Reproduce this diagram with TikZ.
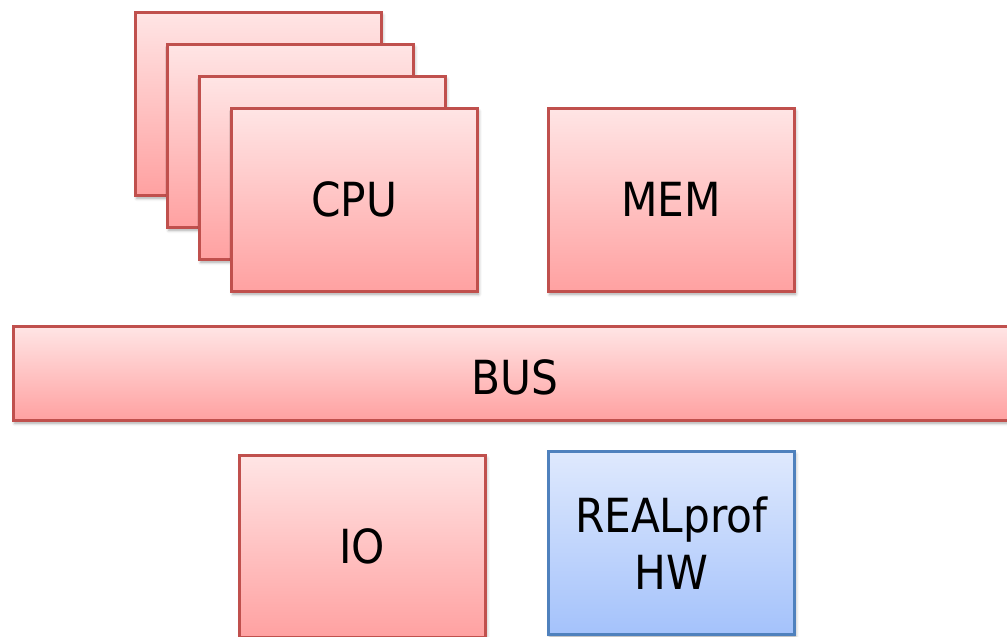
\documentclass[tikz,border=0pt]{standalone}
\usepackage{fontspec}
\setmainfont{DejaVu Sans Condensed}
\usetikzlibrary{shadows.blur}
\definecolor{redtop}{HTML}{FFE5E5}
\definecolor{redbot}{HTML}{FFA1A1}
\definecolor{redline}{HTML}{C0504D}
\definecolor{bluetop}{HTML}{DFE9FD}
\definecolor{bluebot}{HTML}{A4C2FB}
\definecolor{blueline}{HTML}{4F81BD}
\tikzset{
  redbox/.style={draw=redline, line width=2.5pt, top color=redtop, bottom color=redbot,
    anchor=north west, inner sep=0pt, align=center,
    font=\fontsize{47}{57}\selectfont,
    blur shadow={shadow xshift=1.5pt, shadow yshift=-3pt, shadow blur radius=3pt, shadow opacity=35}},
  bluebox/.style={redbox, draw=blueline, top color=bluetop, bottom color=bluebot},
}
\begin{document}
\begin{tikzpicture}[x=1pt, y=-1pt]
\useasboundingbox (0,0) rectangle (1007,637);
\node[redbox, minimum width=246pt, minimum height=183pt] (c1) at (134,11) {};
\node[redbox, minimum width=246pt, minimum height=183pt] (c2) at (166,43) {};
\node[redbox, minimum width=246pt, minimum height=183pt] (c3) at (198,75) {};
\node[redbox, minimum width=246pt, minimum height=183pt] (cpu) at (230,107) {CPU};
\node[redbox, minimum width=246pt, minimum height=183pt] (mem) at (547,107) {MEM};
\node[redbox, minimum width=1020pt, minimum height=94pt] (busbox) at (12,325) {};
\node (bus) at (515,377) {\fontsize{47}{57}\selectfont BUS};
\node[redbox, minimum width=246pt, minimum height=182pt] (io) at (238,454) {IO};
\node[bluebox, minimum width=246pt, minimum height=183pt] (rp) at (547,450) {REALprof\\HW};
\end{tikzpicture}
\end{document}
